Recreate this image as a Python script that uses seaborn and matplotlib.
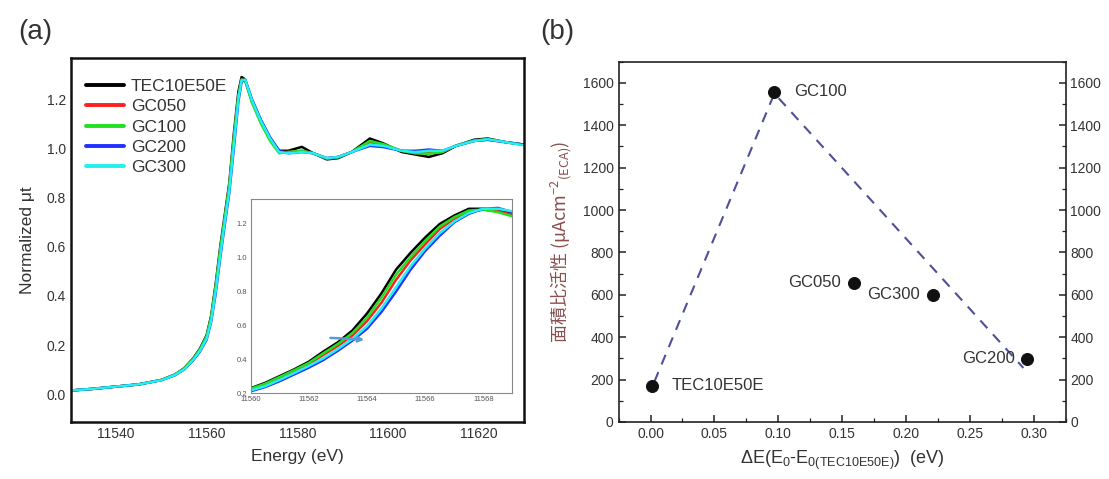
import matplotlib
matplotlib.use("Agg")
import matplotlib.pyplot as plt
from matplotlib.ticker import MultipleLocator, FormatStrFormatter
import seaborn as sns
import pandas as pd

# ---- panel (a): XANES spectra ----
samples = ["TEC10E50E", "GC050", "GC100", "GC200", "GC300"]
colors = ["#000000", "#ff2020", "#20e020", "#2030ff", "#20f0f0"]

energy = [11530, 11535, 11540, 11545, 11550, 11553, 11555, 11557, 11558.5, 11560,
          11561, 11562, 11563, 11564, 11565, 11566, 11567, 11567.7, 11568.5, 11570,
          11572, 11574, 11576, 11578, 11581, 11583.5, 11586.5, 11589, 11592, 11596,
          11599, 11603, 11606, 11609, 11612, 11615, 11619, 11622, 11626, 11630]
mu_tec = [0.015, 0.022, 0.031, 0.040, 0.058, 0.080, 0.105, 0.145, 0.185, 0.240,
          0.320, 0.450, 0.600, 0.730, 0.860, 1.060, 1.230, 1.290, 1.280, 1.190,
          1.110, 1.040, 0.990, 0.990, 1.006, 0.980, 0.955, 0.960, 0.985, 1.040,
          1.020, 0.985, 0.975, 0.965, 0.980, 1.010, 1.035, 1.040, 1.025, 1.015]
mu_gc050 = [0.015, 0.022, 0.031, 0.040, 0.058, 0.079, 0.103, 0.142, 0.180, 0.232,
            0.310, 0.435, 0.585, 0.715, 0.845, 1.040, 1.210, 1.280, 1.275, 1.190,
            1.105, 1.035, 0.985, 0.985, 0.990, 0.980, 0.960, 0.965, 0.985, 1.025,
            1.015, 0.990, 0.980, 0.980, 0.985, 1.010, 1.030, 1.035, 1.025, 1.015]
mu_gc100 = [0.015, 0.022, 0.031, 0.040, 0.058, 0.080, 0.104, 0.143, 0.182, 0.236,
            0.315, 0.440, 0.590, 0.720, 0.850, 1.045, 1.215, 1.280, 1.275, 1.185,
            1.100, 1.030, 0.980, 0.985, 0.990, 0.980, 0.958, 0.963, 0.985, 1.030,
            1.017, 0.990, 0.980, 0.978, 0.985, 1.012, 1.032, 1.037, 1.025, 1.015]
mu_gc200 = [0.015, 0.022, 0.031, 0.040, 0.057, 0.077, 0.100, 0.137, 0.173, 0.222,
            0.295, 0.410, 0.555, 0.690, 0.820, 1.000, 1.190, 1.270, 1.280, 1.200,
            1.115, 1.045, 0.990, 0.980, 0.985, 0.980, 0.960, 0.965, 0.985, 1.010,
            1.005, 0.990, 0.990, 0.995, 0.990, 1.010, 1.030, 1.035, 1.025, 1.015]
mu_gc300 = [0.015, 0.022, 0.031, 0.040, 0.057, 0.078, 0.101, 0.139, 0.176, 0.226,
            0.300, 0.420, 0.565, 0.700, 0.830, 1.015, 1.200, 1.275, 1.280, 1.195,
            1.110, 1.040, 0.985, 0.980, 0.985, 0.980, 0.960, 0.965, 0.985, 1.015,
            1.010, 0.990, 0.985, 0.990, 0.990, 1.010, 1.030, 1.037, 1.025, 1.012]

# inset: zoom of the edge
energy_inset = [11560, 11560.5, 11561, 11561.5, 11562, 11562.5, 11563, 11563.5, 11564, 11564.5,
                11565, 11565.5, 11566, 11566.5, 11567, 11567.5, 11568, 11568.5, 11569]
ins_tec = [0.228, 0.260, 0.300, 0.340, 0.385, 0.445, 0.500, 0.570, 0.670, 0.790,
           0.930, 1.030, 1.120, 1.200, 1.250, 1.290, 1.290, 1.280, 1.260]
ins_gc050 = [0.220, 0.250, 0.287, 0.327, 0.370, 0.425, 0.478, 0.540, 0.625, 0.735,
             0.870, 0.985, 1.080, 1.170, 1.230, 1.270, 1.285, 1.275, 1.255]
ins_gc100 = [0.225, 0.255, 0.295, 0.335, 0.378, 0.435, 0.490, 0.555, 0.645, 0.765,
             0.900, 1.005, 1.100, 1.185, 1.240, 1.280, 1.285, 1.270, 1.245]
ins_gc200 = [0.210, 0.235, 0.270, 0.310, 0.350, 0.395, 0.450, 0.510, 0.580, 0.680,
             0.800, 0.930, 1.040, 1.130, 1.210, 1.260, 1.290, 1.295, 1.270]
ins_gc300 = [0.215, 0.240, 0.278, 0.318, 0.360, 0.405, 0.460, 0.520, 0.595, 0.700,
             0.825, 0.950, 1.055, 1.145, 1.215, 1.265, 1.290, 1.290, 1.275]

# ---- panel (b): activity vs edge shift ----
b_labels = ["TEC10E50E", "GC100", "GC050", "GC300", "GC200"]
b_shift = [0.001, 0.097, 0.159, 0.221, 0.295]
b_activity = [170, 1558, 656, 601, 298]
b_offsets = [14, 14, -9, -9, -9]  # points, + right / - left
trend_shift = [0.003, 0.097, 0.292]
trend_activity = [190, 1550, 255]

sns.set_theme(style="white")
plt.rcParams["font.family"] = ["Liberation Sans", "Noto Sans CJK JP", "DejaVu Sans"]
plt.rcParams["mathtext.default"] = "regular"
txt = "#333333"

fig = plt.figure(figsize=(11.09, 4.79), dpi=100)
ax_a = fig.add_axes([0.0637, 0.119, 0.4088, 0.7592])
ax_in = fig.add_axes([0.2259, 0.1795, 0.2362, 0.4044])
ax_b = fig.add_axes([0.5578, 0.119, 0.4030, 0.7522])

main = pd.concat([pd.DataFrame({"energy": energy, "mu": v, "sample": s})
                  for s, v in zip(samples, [mu_tec, mu_gc050, mu_gc100, mu_gc200, mu_gc300])])
inset = pd.concat([pd.DataFrame({"energy": energy_inset, "mu": v, "sample": s})
                   for s, v in zip(samples, [ins_tec, ins_gc050, ins_gc100, ins_gc200, ins_gc300])])
pal = dict(zip(samples, colors))

sns.lineplot(data=main, x="energy", y="mu", hue="sample", palette=pal, estimator=None,
             sort=False, linewidth=1.8, ax=ax_a, legend=False)
sns.lineplot(data=inset, x="energy", y="mu", hue="sample", palette=pal, estimator=None,
             sort=False, linewidth=1.8, ax=ax_in, legend=False)

# legend
for s, c in zip(samples, colors):
    ax_a.plot([], [], color=c, lw=2.8, label=s)
ax_a.legend(loc="upper left", bbox_to_anchor=(0.0185, 0.963), frameon=False, fontsize=12.5,
            handlelength=2.2, handletextpad=0.4, labelspacing=0.3, borderaxespad=0,
            labelcolor=txt)

ax_a.set_xlim(11530, 11630)
ax_a.set_ylim(-0.113, 1.366)
ax_a.xaxis.set_major_locator(MultipleLocator(20))
ax_a.xaxis.set_minor_locator(MultipleLocator(10))
ax_a.yaxis.set_major_locator(MultipleLocator(0.2))
ax_a.yaxis.set_minor_locator(MultipleLocator(0.1))
ax_a.yaxis.set_major_formatter(FormatStrFormatter("%.1f"))
ax_a.tick_params(which="both", direction="in", colors="#111111", labelcolor=txt, labelsize=10)
ax_a.tick_params(which="major", length=5, width=1.6)
ax_a.tick_params(which="minor", length=3, width=1.3)
for sp in ax_a.spines.values():
    sp.set_linewidth(1.8)
    sp.set_color("#111111")
ax_a.set_xlabel("Energy (eV)", fontsize=12.5, color=txt, labelpad=6)
ax_a.set_ylabel("Normalized μt", fontsize=12.5, color=txt, labelpad=8)

ax_in.set_xlim(11560, 11569)
ax_in.set_ylim(0.2, 1.346)
ax_in.xaxis.set_major_locator(MultipleLocator(2))
ax_in.xaxis.set_minor_locator(MultipleLocator(1))
ax_in.xaxis.set_major_formatter(FormatStrFormatter("%d"))
ax_in.yaxis.set_major_locator(MultipleLocator(0.2))
ax_in.yaxis.set_minor_locator(MultipleLocator(0.1))
ax_in.yaxis.set_major_formatter(FormatStrFormatter("%.1f"))
ax_in.tick_params(which="both", direction="in", colors="#666666", labelcolor="#555555",
                  labelsize=5.5)
ax_in.tick_params(axis="x", pad=2.5)
ax_in.tick_params(axis="y", pad=2.5)
ax_in.tick_params(which="major", length=3, width=0.7)
ax_in.tick_params(which="minor", length=2, width=0.6)
for sp in ax_in.spines.values():
    sp.set_linewidth(0.8)
    sp.set_color("#888888")
ax_in.set_xlabel("")
ax_in.set_ylabel("")
ax_in.annotate("", xy=(11564.0, 0.515), xytext=(11562.65, 0.527),
               arrowprops=dict(arrowstyle="-|>", color="#5b9bd5", lw=1.8, mutation_scale=8))

# panel (b)
sns.lineplot(x=trend_shift, y=trend_activity, ax=ax_b, color="#4f4f9a", lw=1.5,
             linestyle=(0, (5, 4)), sort=False, estimator=None)
sns.scatterplot(x=b_shift, y=b_activity, ax=ax_b, color="#111111", s=75, edgecolor="#111111",
                zorder=3)
for lab, xv, yv, off in zip(b_labels, b_shift, b_activity, b_offsets):
    ax_b.annotate(lab, (xv, yv), xytext=(off, 0), textcoords="offset points", va="center",
                  ha="left" if off > 0 else "right", fontsize=12, color=txt)

ax_b.set_xlim(-0.025, 0.325)
ax_b.set_ylim(0, 1700)
ax_b.xaxis.set_major_locator(MultipleLocator(0.05))
ax_b.xaxis.set_minor_locator(MultipleLocator(0.025))
ax_b.yaxis.set_major_locator(MultipleLocator(200))
ax_b.yaxis.set_minor_locator(MultipleLocator(100))
ax_b.xaxis.set_major_formatter(FormatStrFormatter("%.2f"))
ax_b.tick_params(which="both", direction="in", left=True, right=True, bottom=True,
                 labelright=True, colors="#222222", labelcolor=txt, labelsize=10)
ax_b.tick_params(which="major", length=5, width=1.1)
ax_b.tick_params(which="minor", length=3, width=0.9)
for sp in ax_b.spines.values():
    sp.set_linewidth(1.2)
    sp.set_color("#222222")
ax_b.set_xlabel("ΔE(E$_0$-E$_{0(TEC10E50E)}$)  (eV)", fontsize=13, color=txt, labelpad=6)
# CJK font first so the mathtext "regular" font has the kanji
ax_b.set_ylabel("面積比活性 (μAcm$^{-2}$$_{(ECA)}$)", fontsize=13, color="#8a4f4f",
                labelpad=6, fontfamily=["Noto Sans CJK JP", "DejaVu Sans"])

fig.text(0.0316, 0.933, "(a)", fontsize=20, color=txt, ha="center", va="center")
fig.text(0.5023, 0.933, "(b)", fontsize=20, color=txt, ha="center", va="center")

fig.savefig("out.png", dpi=100)
